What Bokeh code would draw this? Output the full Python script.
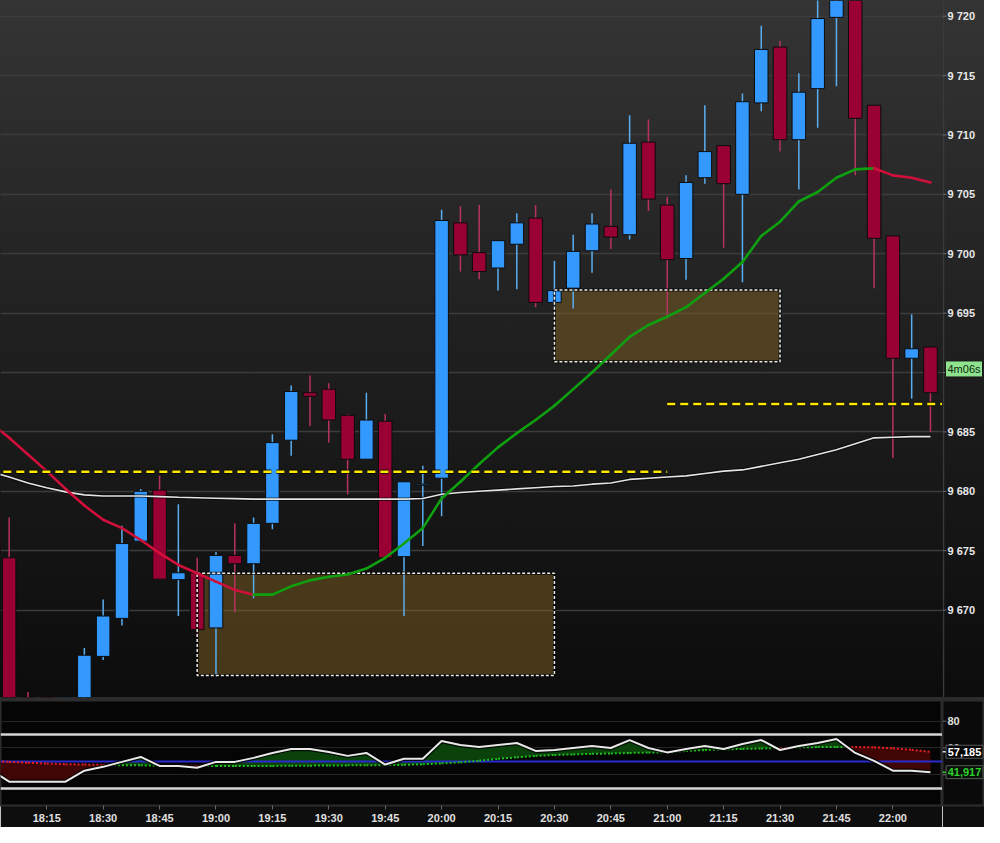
import numpy as np
from bokeh.plotting import figure
from bokeh.models import Range1d, FixedTicker, Grid
from bokeh.core.properties import value
from bokeh.layouts import column, row
from bokeh.embed import file_html
from bokeh.resources import INLINE

# ---------------- data ----------------
times = ["18:00", "18:05", "18:10", "18:15", "18:20", "18:25", "18:30", "18:35", "18:40", "18:45",
         "18:50", "18:55", "19:00", "19:05", "19:10", "19:15", "19:20", "19:25", "19:30", "19:35",
         "19:40", "19:45", "19:50", "19:55", "20:00", "20:05", "20:10", "20:15", "20:20", "20:25",
         "20:30", "20:35", "20:40", "20:45", "20:50", "20:55", "21:00", "21:05", "21:10", "21:15",
         "21:20", "21:25", "21:30", "21:35", "21:40", "21:45", "21:50", "21:55", "22:00", "22:05",
         "22:10"]

opens = [9678.0, 9674.4, 9661.0, 9658.5, 9657.0, 9659.8, 9666.1, 9669.3, 9675.8, 9680.1,
         9672.56, 9673.14, 9668.5, 9674.6, 9673.9, 9677.3, 9684.3, 9688.3, 9688.6, 9686.4,
         9682.7, 9685.9, 9674.5, 9680.5, 9681.1, 9702.6, 9700.1, 9698.8, 9700.8, 9703.0,
         9695.9, 9697.1, 9700.25, 9702.3, 9701.6, 9709.4, 9704.1, 9699.6, 9706.4, 9709.1,
         9705.0, 9712.7, 9717.4, 9709.6, 9713.9, 9719.9, 9724.0, 9712.5, 9701.5, 9691.2,
         9692.15]
highs = [9679.0, 9677.8, 9663.1, 9660.5, 9661.0, 9666.8, 9670.9, 9677.1, 9680.2, 9681.3,
         9678.9, 9674.4, 9674.9, 9677.3, 9677.8, 9684.8, 9688.9, 9689.75, 9689.1, 9686.5,
         9688.3, 9686.5, 9680.8, 9682.15, 9703.7, 9704.0, 9704.1, 9701.1, 9703.4, 9704.1,
         9699.4, 9701.6, 9703.4, 9705.4, 9711.65, 9711.3, 9704.8, 9706.6, 9712.5, 9709.1,
         9713.5, 9719.2, 9717.9, 9715.2, 9722.5, 9724.5, 9725.0, 9712.5, 9701.5, 9694.9,
         9692.15]
lows = [9673.0, 9659.5, 9657.0, 9655.5, 9656.0, 9659.2, 9665.8, 9668.7, 9675.8, 9672.6,
        9669.5, 9667.8, 9664.4, 9669.8, 9671.0, 9676.8, 9683.0, 9685.5, 9684.1, 9679.75,
        9682.7, 9674.3, 9669.5, 9675.4, 9677.9, 9698.5, 9697.85, 9696.9, 9697.0, 9695.5,
        9695.4, 9695.4, 9698.4, 9700.4, 9701.2, 9703.6, 9694.5, 9697.8, 9705.9, 9700.5,
        9697.6, 9712.0, 9708.6, 9705.4, 9710.6, 9714.1, 9706.6, 9697.1, 9682.8, 9687.8,
        9685.0]
closes = [9674.5, 9661.0, 9658.5, 9657.0, 9659.8, 9666.2, 9669.5, 9675.6, 9680.0, 9672.6,
          9673.14, 9668.35, 9674.6, 9673.9, 9677.3, 9684.1, 9688.4, 9688.0, 9686.0, 9682.7,
          9686.0, 9674.4, 9680.8, 9680.6, 9702.8, 9699.9, 9698.5, 9701.1, 9702.6, 9695.9,
          9696.9, 9700.2, 9702.5, 9701.4, 9709.3, 9704.6, 9699.5, 9706.0, 9708.6, 9705.9,
          9712.8, 9717.2, 9709.6, 9713.6, 9719.8, 9723.0, 9711.4, 9701.3, 9691.2, 9692.0,
          9688.3]

fast_ma = [9685.8, 9684.5, 9683.1, 9681.7, 9680.2, 9678.8, 9677.6, 9676.9, 9675.9, 9674.8,
           9673.8, 9673.1, 9672.4, 9671.7, 9671.3, 9671.3, 9672.0, 9672.5, 9672.8, 9673.0,
           9673.5, 9674.4, 9675.6, 9676.9, 9679.4, 9680.8, 9682.3, 9683.7, 9684.9, 9686.0,
           9687.2, 9688.6, 9690.0, 9691.5, 9693.0, 9694.0, 9694.7, 9695.5, 9696.7, 9697.9,
           9699.3, 9701.5, 9702.7, 9704.4, 9705.2, 9706.4, 9707.1, 9707.2, 9706.6, 9706.4,
           9706.0]
slow_ma = [9681.65, 9681.2, 9680.7, 9680.3, 9679.95, 9679.7, 9679.6, 9679.6, 9679.6, 9679.55,
           9679.5, 9679.46, 9679.42, 9679.38, 9679.34, 9679.34, 9679.34, 9679.34, 9679.34, 9679.34,
           9679.34, 9679.34, 9679.34, 9679.4, 9679.75, 9679.9, 9680.0, 9680.1, 9680.2, 9680.3,
           9680.4, 9680.45, 9680.6, 9680.7, 9681.0, 9681.1, 9681.2, 9681.3, 9681.5, 9681.7,
           9681.8, 9682.1, 9682.4, 9682.7, 9683.1, 9683.5, 9684.0, 9684.5, 9684.55, 9684.6,
           9684.6]

osc = [44.0, 34.8, 34.8, 34.8, 34.8, 43.0, 45.9, 49.6, 53.3, 46.6,
       46.5, 45.2, 49.6, 49.6, 52.6, 56.3, 59.3, 59.3, 57.0, 54.1,
       56.3, 47.6, 51.9, 51.9, 65.2, 62.2, 60.7, 62.2, 63.7, 57.8,
       58.5, 60.0, 61.5, 60.0, 65.9, 60.0, 56.7, 59.3, 61.5, 59.3,
       63.0, 65.9, 58.5, 61.5, 63.7, 66.7, 56.3, 50.4, 43.0, 43.0,
       41.917]
signal = [50.4, 49.6, 49.0, 48.4, 47.9, 47.6, 47.3, 47.1, 47.0, 46.9,
          46.8, 46.6, 46.5, 46.5, 46.5, 46.6, 46.7, 46.8, 46.9, 47.0,
          47.1, 47.2, 47.4, 47.8, 48.5, 49.3, 50.4, 51.9, 53.0, 54.1,
          54.8, 55.2, 55.6, 55.9, 56.3, 56.6, 56.6, 57.8, 58.5, 58.9,
          59.3, 59.6, 60.0, 60.4, 60.7, 60.7, 60.7, 60.5, 59.8, 58.6,
          57.185]

level_prices = [9681.65, 9687.35]
level_start = ["18:00", "21:00"]
level_end = ["21:00", "22:15"]

zone_left = ["18:55", "20:30"]
zone_right = ["20:30", "21:30"]
zone_top = [9673.1, 9696.94]
zone_bottom = [9664.5, 9690.9]

price_ticks = [9670, 9675, 9680, 9685, 9690, 9695, 9700, 9705, 9710, 9715, 9720]
osc_ticks = [40, 60, 80]
osc_levels_outer = [70, 30]
osc_level_mid = [50]
time_ticks = ["18:00", "18:15", "18:30", "18:45", "19:00", "19:15", "19:30", "19:45", "20:00",
              "20:15", "20:30", "20:45", "21:00", "21:15", "21:30", "21:45", "22:00"]
countdown_text = "4m06s"
countdown_price = 9690.3


def to_min(s):
    hh, mm = s.split(":")
    return (int(hh) - 18) * 60 + int(mm)


t = np.array([to_min(s) for s in times], dtype=float)
o = np.array(opens); h = np.array(highs); l = np.array(lows); c = np.array(closes)
up = c >= o

PW = 942     # plot frame width
AW = 42      # axis column width
MAIN_H = 700
IND_H = 127
FONT = "Liberation Sans"
GRAD = ("linear-gradient(to bottom, #343434 0%, #1e1e1e 52%, #0c0c0c calc(100% - 3px), "
        "#2c2c2c calc(100% - 3px), #2c2c2c 100%)")

xr = Range1d(2.7, 253.2)
yr_main = Range1d(9662.64, 9721.32)
yr_ind = Range1d(17, 95.5)

# ---------------- main price panel ----------------
p = figure(width=PW, height=MAIN_H, x_range=xr, y_range=yr_main,
           x_axis_location=None, y_axis_location=None, toolbar_location=None,
           output_backend="svg", min_border_left=0, min_border_right=0,
           min_border_top=0, min_border_bottom=3)
p.grid.visible = False
p.background_fill_alpha = 0
p.border_fill_alpha = 0
p.styles = {"background": GRAD}
p.outline_line_color = None
p.add_layout(Grid(dimension=1, ticker=FixedTicker(ticks=price_ticks),
                  grid_line_color="#3c3c3c", grid_line_width=1.5))

# zone fills
zl = [to_min(s) for s in zone_left]
zr = [to_min(s) for s in zone_right]
p.quad(left=zl, right=zr, top=zone_top, bottom=zone_bottom,
       fill_color="#8c6a28", fill_alpha=0.45, line_color=None)

# candles
wick_col = ["#5aaef0" if u else "#b83260" for u in up]
body_col = ["#3399ff" if u else "#990033" for u in up]
p.segment(x0=t, y0=h, x1=t, y1=l, line_color=wick_col, line_width=1.5)
p.vbar(x=t, width=3.6, top=np.maximum(o, c), bottom=np.minimum(o, c),
       fill_color=body_col, line_color="#0c0c0c", line_width=1)

# zone outlines
p.quad(left=zl, right=zr, top=zone_top, bottom=zone_bottom,
       fill_alpha=0, line_color="#000000", line_alpha=0.7, line_width=3)
p.quad(left=zl, right=zr, top=zone_top, bottom=zone_bottom,
       fill_alpha=0, line_color="#ececec", line_width=1.5, line_dash="3 2")

# slow MA (white)
p.line(t, slow_ma, line_color="#000000", line_alpha=0.6, line_width=3.5)
p.line(t, slow_ma, line_color="#e4e4e4", line_width=1.6)

# fast MA (red falling / green rising)
fm = np.array(fast_ma)
seg_col = ["#0fa00f" if fm[i + 1] >= fm[i] else "#d0103a" for i in range(len(fm) - 1)]
p.segment(x0=t[:-1], y0=fm[:-1], x1=t[1:], y1=fm[1:], line_color=seg_col,
          line_width=2.6, line_cap="round")

# yellow levels
ls = [to_min(s) for s in level_start]
le = [to_min(s) for s in level_end]
p.segment(x0=ls, y0=level_prices, x1=le, y1=level_prices, line_color="#000000",
          line_width=4.5, line_dash="8 5", line_alpha=0.8)
p.segment(x0=ls, y0=level_prices, x1=le, y1=level_prices, line_color="#ffe800",
          line_width=2.5, line_dash="8 5")

# ---------------- main price axis column ----------------
pa = figure(width=AW, height=MAIN_H, x_range=Range1d(0, AW), y_range=yr_main,
            x_axis_location=None, y_axis_location=None, toolbar_location=None,
            output_backend="svg", min_border_left=0, min_border_right=0,
            min_border_top=0, min_border_bottom=3)
pa.grid.visible = False
pa.background_fill_alpha = 0
pa.border_fill_alpha = 0
pa.styles = {"background": GRAD}
pa.outline_line_color = None
pa.vspan(x=[0.75], line_color="#3a3a3a", line_width=1.5)
pa.segment(x0=0, y0=price_ticks, x1=4, y1=price_ticks, line_color="#707070", line_width=1)
pa.text(x=5, y=price_ticks, text=[f"{v:,}".replace(",", " ") for v in price_ticks],
        text_baseline="middle", text_align="left", text_font=value(FONT),
        text_font_style="bold", text_font_size="11px", text_color="#e8e8e8")
pa.rect(x=[21.5], y=[countdown_price], width=37, height=16, height_units="screen",
        fill_color="#8fe38f", line_color="#1a1a1a", line_width=1)
pa.text(x=[21.5], y=[countdown_price], text=[countdown_text], text_baseline="middle",
        text_align="center", text_font=value(FONT), text_font_size="11px",
        text_color="#0e2a0e")

# ---------------- oscillator panel ----------------
q = figure(width=PW, height=IND_H, x_range=xr, y_range=yr_ind,
           y_axis_location=None, toolbar_location=None, output_backend="svg",
           min_border_left=0, min_border_right=0, min_border_top=0, min_border_bottom=22)
q.grid.visible = False
q.background_fill_color = "#050505"
q.border_fill_color = "#0e0e0e"
q.outline_line_color = "#2c2c2c"
q.outline_line_width = 2
q.add_layout(Grid(dimension=1, ticker=FixedTicker(ticks=osc_ticks), grid_line_color="#262626"))

qx = q.xaxis[0]
qx.ticker = FixedTicker(ticks=[to_min(s) for s in time_ticks])
qx.major_label_overrides = {to_min(s): s for s in time_ticks}
qx.axis_line_color = "#2c2c2c"
qx.major_tick_out = 4
qx.major_tick_in = 0
qx.major_tick_line_color = "#666666"
qx.minor_tick_line_color = None
qx.major_label_text_color = "#e0e0e0"
qx.major_label_text_font = FONT
qx.major_label_text_font_style = "bold"
qx.major_label_text_font_size = "11px"
qx.major_label_standoff = 2

q.hspan(y=osc_levels_outer, line_color="#d4d4d4", line_width=2.5)

# fills between oscillator and signal, split at crossings
ov = np.array(osc); sv = np.array(signal)
xs = [t[0]]; oa = [ov[0]]; sa = [sv[0]]
for i in range(len(t) - 1):
    d0 = ov[i] - sv[i]; d1 = ov[i + 1] - sv[i + 1]
    if d0 * d1 < 0:
        f = d0 / (d0 - d1)
        xc = t[i] + f * (t[i + 1] - t[i])
        yc = sv[i] + f * (sv[i + 1] - sv[i])
        xs.append(xc); oa.append(yc); sa.append(yc)
    xs.append(t[i + 1]); oa.append(ov[i + 1]); sa.append(sv[i + 1])
xs = np.array(xs); oa = np.array(oa); sa = np.array(sa)
q.varea(x=xs, y1=sa, y2=np.maximum(oa, sa), fill_color="#0b420b")
q.varea(x=xs, y1=sa, y2=np.minimum(oa, sa), fill_color="#400606")

q.hspan(y=osc_level_mid, line_color="#2a2ad0", line_width=2)

mid = (oa[:-1] + oa[1:]) / 2 - (sa[:-1] + sa[1:]) / 2
sig_col = ["#1fbf1f" if m >= 0 else "#e82020" for m in mid]
q.segment(x0=xs[:-1], y0=sa[:-1], x1=xs[1:], y1=sa[1:], line_color=sig_col,
          line_width=2, line_dash="2 2")

q.line(t, ov, line_color="#000000", line_width=4.5, line_alpha=0.8)
q.line(t, ov, line_color="#e8e8e8", line_width=2)

# ---------------- oscillator axis column ----------------
qa = figure(width=AW, height=IND_H, x_range=Range1d(0, AW), y_range=yr_ind,
            x_axis_location=None, y_axis_location=None, toolbar_location=None,
            output_backend="svg", min_border_left=0, min_border_right=0,
            min_border_top=0, min_border_bottom=22)
qa.grid.visible = False
qa.background_fill_color = "#0a0a0a"
qa.border_fill_color = "#0e0e0e"
qa.outline_line_color = "#2c2c2c"
qa.outline_line_width = 2
qa.segment(x0=0, y0=osc_ticks, x1=4, y1=osc_ticks, line_color="#707070", line_width=1)
qa.text(x=5, y=osc_ticks, text=[str(v) for v in osc_ticks], text_baseline="middle",
        text_align="left", text_font=value(FONT), text_font_style="bold",
        text_font_size="11px", text_color="#e0e0e0")
last_vals = [signal[-1], osc[-1]]
qa.segment(x0=0, y0=last_vals, x1=4, y1=last_vals, line_color=["#e0e0e0", "#2fd02f"],
           line_width=1.5)
qa.rect(x=[22, 22], y=last_vals, width=37, height=13, height_units="screen",
        fill_color=["#050505", "#081208"], line_color="#5a5a5a", line_width=1)
qa.text(x=[22, 22], y=last_vals, text=[f"{v:.3f}".replace(".", ",") for v in last_vals],
        text_baseline="middle", text_align="center", text_font=value(FONT),
        text_font_style="bold", text_font_size="11px", text_color=["#ffffff", "#2fd02f"])

layout = column(row(p, pa, spacing=0), row(q, qa, spacing=0), spacing=0)
open("out.html", "w").write(file_html(layout, INLINE))
